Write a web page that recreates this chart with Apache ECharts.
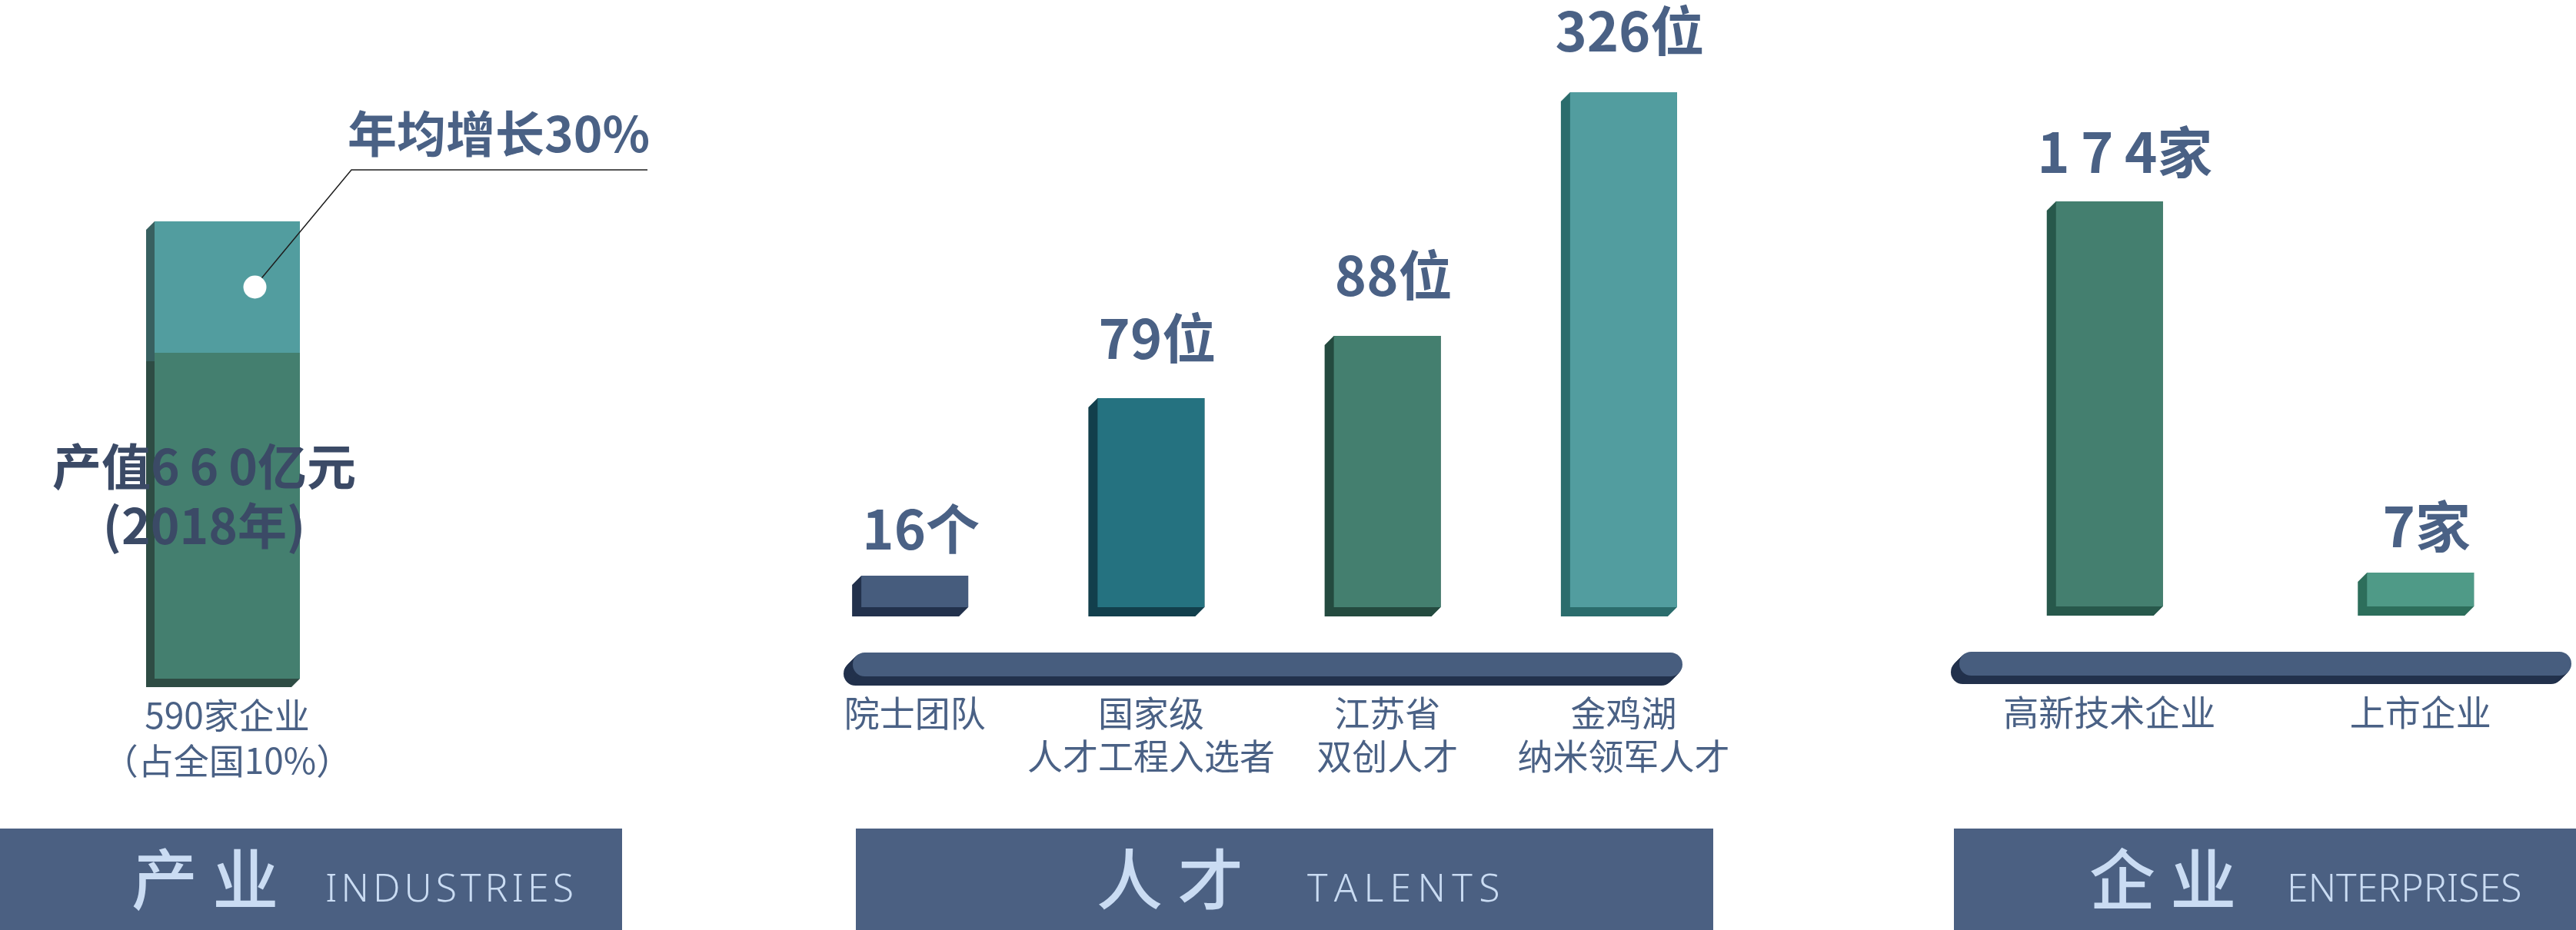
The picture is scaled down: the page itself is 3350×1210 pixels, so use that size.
<!DOCTYPE html>
<html>
<head>
<meta charset="utf-8">
<title>产业 人才 企业</title>
<script src="https://cdn.jsdelivr.net/npm/echarts@6/dist/echarts.min.js"></script>
<style>
  html, body { margin: 0; padding: 0; background: #fff; }
  #main { width: 3350px; height: 1210px; }
</style>
</head>
<body>
<div id="main"></div>
<script>
// 产业
var industryCategories = ['590家企业\n（占全国10%）'];
var industryOutput = 660;      // 亿元
var industryYear = 2018;
var industryGrowthRate = 30;   // %
var industryBase = [424];      // bar heights as drawn in the picture
var industryGrowth = [171];

// 人才
var talentCategories = ['院士团队', '国家级\n人才工程入选者', '江苏省\n双创人才', '金鸡湖\n纳米领军人才'];
var talentCounts = [16, 79, 88, 326];
var talentUnits = ['个', '位', '位', '位'];
var talentLevels = [41, 272, 353, 670];

// 企业
var enterpriseCategories = ['高新技术企业', '上市企业'];
var enterpriseCounts = [174, 7];
var enterpriseUnit = '家';
var enterpriseLevels = [527, 44];

var FONT = '"Noto Sans CJK SC", "Noto Sans", sans-serif';
var labelBlue = '#4a6185';

var talentColors = ['#465c7d', '#257280', '#447f6f', '#529d9f'];
var talentShadows = ['#22314c', '#123f4c', '#244a3f', '#2b6c6c'];
var talentGap = [26, 43, 44, 45];
var enterpriseColors = ['#447f6f', '#4f9a87'];
var enterpriseShadows = ['#27584b', '#2d6e5b'];
var enterpriseGap = [28, 24];
var enterpriseShift = [20, 8];

function spaced(n) {
  return String(n).split('').join('\u2009');
}

// dark extruded side of a bar, swept down-left
function extrude(width, depth, colors) {
  return function (params, api) {
    var lo = api.coord([api.value(0), api.value(1)]);
    var hi = api.coord([api.value(0), api.value(2)]);
    var x0 = lo[0] - width / 2, x1 = lo[0] + width / 2;
    var y0 = hi[1], y1 = lo[1];
    return {
      type: 'polygon',
      shape: {
        points: [[x0, y0], [x0 - depth, y0 + depth], [x0 - depth, y1 + depth],
                 [x1 - depth, y1 + depth], [x1, y1], [x1, y0]]
      },
      style: { fill: colors[params.dataIndex] }
    };
  };
}

function pill(x, y, w, h, depth) {
  var children = [];
  for (var k = depth; k >= 1; k--) {
    children.push({ type: 'rect', shape: { x: x - k, y: y + k, width: w, height: h, r: h / 2 }, style: { fill: '#22314c' } });
  }
  children.push({ type: 'rect', shape: { x: x, y: y, width: w, height: h, r: h / 2 }, style: { fill: '#475d7e' } });
  return { type: 'group', children: children };
}

function footer(x, w, cn, cnX, en, enX) {
  return {
    type: 'group',
    children: [
      { type: 'rect', z: 1, shape: { x: x, y: 1078, width: w, height: 132 }, style: { fill: '#4b6082' } },
      { type: 'text', z: 2, x: cnX, y: 1144,
        style: { text: cn, fill: '#cadcf3', font: '500 86px ' + FONT, textAlign: 'left', textVerticalAlign: 'middle' } },
      { type: 'text', z: 2, x: enX, y: 1184,
        style: { text: en, fill: '#cadcf3', font: '300 50px "Noto Sans", sans-serif', textAlign: 'left', textVerticalAlign: 'bottom' } }
    ]
  };
}

var chart = echarts.init(document.getElementById('main'));

var hiddenY = function (i) {
  return { gridIndex: i, type: 'value', min: 0, max: 700, show: false };
};
var catX = function (i, data, margin, lh) {
  return {
    gridIndex: i, type: 'category', data: data,
    axisLine: { show: false }, axisTick: { show: false },
    axisLabel: { margin: margin, color: labelBlue, fontFamily: FONT, fontSize: 46, lineHeight: lh, interval: 0 }
  };
};

chart.setOption({
  animation: false,
  backgroundColor: '#ffffff',
  grid: [
    { left: 100, width: 391, top: 183, height: 700 },
    { left: 1036, width: 1229, top: 90, height: 700 },
    { left: 2541, width: 822, top: 89, height: 700 }
  ],
  xAxis: [
    catX(0, industryCategories, 18, 59),
    catX(1, talentCategories, 110, 56),
    catX(2, enterpriseCategories, 110, 56)
  ],
  yAxis: [hiddenY(0), hiddenY(1), hiddenY(2)],
  graphic: [
    pill(1109, 849, 1079, 31, 12),
    pill(2548, 848, 796, 31, 11),
    footer(0, 809, '产 业', 171, 'I\u200aN\u200aD\u200aU\u200aS\u200aT\u200aR\u200aI\u200aE\u200aS', 423),
    footer(1113, 1115, '人 才', 1426, 'T\u2009A\u2009L\u2009E\u2009N\u2009T\u2009S', 1700),
    footer(2541, 809, '企 业', 2717, 'ENTERPRISES', 2974),
    { type: 'polyline', z: 10, shape: { points: [[331, 373], [457, 221], [842, 221]] },
      style: { stroke: '#1e1e1e', lineWidth: 1.5, fill: null } },
    { type: 'text', z: 10, x: 452, y: 174,
      style: { text: '年均增长' + industryGrowthRate + '%', fill: labelBlue, font: 'bold 64px ' + FONT,
               textAlign: 'left', textVerticalAlign: 'middle' } }
  ],
  series: [
    {
      type: 'custom', xAxisIndex: 0, yAxisIndex: 0, z: 1, silent: true,
      renderItem: extrude(189, 11, ['#2e4c44', '#386060']),
      data: [[0, 0, industryBase[0]], [0, industryBase[0], industryBase[0] + industryGrowth[0]]]
    },
    {
      type: 'bar', xAxisIndex: 0, yAxisIndex: 0, stack: 'ind', barWidth: 189, silent: true,
      itemStyle: { color: '#447f6f' },
      label: {
        show: true, position: 'inside', offset: [-30, -26],
        formatter: '产值' + spaced(industryOutput) + '亿元\n(' + industryYear + '年)',
        color: '#3b4a66', fontFamily: FONT, fontWeight: 'bold', fontSize: 64, lineHeight: 77
      },
      data: industryBase
    },
    {
      type: 'bar', xAxisIndex: 0, yAxisIndex: 0, stack: 'ind', barWidth: 189, silent: true,
      itemStyle: { color: '#529d9f' },
      data: industryGrowth
    },
    {
      type: 'scatter', xAxisIndex: 0, yAxisIndex: 0, z: 20, silent: true,
      symbolSize: 30, symbolOffset: [36, 0],
      itemStyle: { color: '#ffffff', opacity: 1 },
      data: [[0, industryBase[0] + industryGrowth[0] / 2]]
    },
    {
      type: 'custom', xAxisIndex: 1, yAxisIndex: 1, z: 1, silent: true,
      renderItem: extrude(139, 12, talentShadows),
      data: talentLevels.map(function (v, i) { return [i, 0, v]; })
    },
    {
      type: 'bar', xAxisIndex: 1, yAxisIndex: 1, barWidth: 139, silent: true,
      label: {
        show: true, position: 'top', offset: [8, 0],
        color: labelBlue, fontFamily: FONT, fontWeight: 'bold', fontSize: 70,
        formatter: function (p) { return talentCounts[p.dataIndex] + talentUnits[p.dataIndex]; }
      },
      data: talentLevels.map(function (v, i) {
        return { value: v, itemStyle: { color: talentColors[i] }, label: { distance: talentGap[i] } };
      })
    },
    {
      type: 'custom', xAxisIndex: 2, yAxisIndex: 2, z: 1, silent: true,
      renderItem: extrude(139, 12, enterpriseShadows),
      data: enterpriseLevels.map(function (v, i) { return [i, 0, v]; })
    },
    {
      type: 'bar', xAxisIndex: 2, yAxisIndex: 2, barWidth: 139, silent: true,
      label: {
        show: true, position: 'top',
        color: labelBlue, fontFamily: FONT, fontWeight: 'bold', fontSize: 72,
        formatter: function (p) { return spaced(enterpriseCounts[p.dataIndex]) + enterpriseUnit; }
      },
      data: enterpriseLevels.map(function (v, i) {
        return {
          value: v, itemStyle: { color: enterpriseColors[i] },
          label: { distance: enterpriseGap[i], offset: [enterpriseShift[i], 0] }
        };
      })
    }
  ]
});
</script>
</body>
</html>
